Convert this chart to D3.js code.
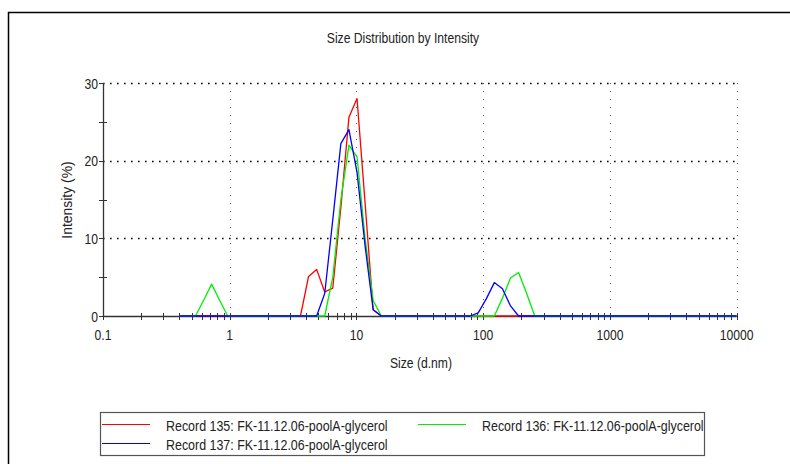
<!DOCTYPE html>
<html><head><meta charset="utf-8">
<script src="https://cdn.jsdelivr.net/npm/d3@7"></script>
<style>body{margin:0;background:#fff}svg{display:block}text{font-family:"Liberation Sans",Arial,sans-serif;fill:#222}</style>
</head><body><svg id="c" width="790" height="464"></svg>
<script>
const sizes=[0.4,0.4632,0.5365,0.6213,0.7195,0.8332,0.9649,1.117,1.294,1.499,1.736,2.010,2.328,2.696,3.122,3.615,4.187,4.849,5.615,6.503,7.531,8.721,10.10,11.70,13.54,15.69,18.17,21.04,24.36,28.21,32.67,37.84,43.82,50.75,58.77,68.06,78.82,91.28,105.7,122.4,141.8,164.2,190.1,220.2,255.0,295.3,342.0,396.1,458.7,531.2,615.1,712.4,825.0,955.4,1106,1281,1484,1718,1990,2305,2669,3091,3580,4145,4801,5560,6439,7456,8635,10000];
const rec135=[0,0,0,0,0,0,0,0,0,0,0,0,0,0,0,0,5.1,6.0,3.1,3.6,14,25.6,28.0,14.5,0.8,0,0,0,0,0,0,0,0,0,0,0,0,0,0,0,0,0,0,0,0,0,0,0,0,0,0,0,0,0,0,0,0,0,0,0,0,0,0,0,0,0,0,0,0,0];
const rec136=[0,0,0,2.0,4.1,2.0,0,0,0,0,0,0,0,0,0,0,0,0,0,5,15,22,20.5,10,2,0,0,0,0,0,0,0,0,0,0,0,0,0,0,0,2.3,4.9,5.6,2.9,0,0,0,0,0,0,0,0,0,0,0,0,0,0,0,0,0,0,0,0,0,0,0,0,0,0];
const rec137=[0,0,0,0,0,0,0,0,0,0,0,0,0,0,0,0,0,0,2.9,12.4,22.2,24.0,18.5,9,0.8,0,0,0,0,0,0,0,0,0,0,0,0,0.4,2.2,4.3,3.5,1.3,0,0,0,0,0,0,0,0,0,0,0,0,0,0,0,0,0,0,0,0,0,0,0,0,0,0,0,0];
const xTicks=[0.1,1,10,100,1000,10000];
const xTickLabels=["0.1","1","10","100","1000","10000"];
const yTicks=[0,10,20,30];
const series=[
 {name:"Record 135: FK-11.12.06-poolA-glycerol",values:rec135,color:"#ff0000"},
 {name:"Record 136: FK-11.12.06-poolA-glycerol",values:rec136,color:"#00ee00"},
 {name:"Record 137: FK-11.12.06-poolA-glycerol",values:rec137,color:"#0000ff"}
];
const title="Size Distribution by Intensity", xLabel="Size (d.nm)", yLabel="Intensity (%)";

const svg=d3.select("#c");
const x=d3.scaleLog().domain([0.1,10000]).range([103,736.7]);
const y=d3.scaleLinear().domain([0,30]).range([316,83]);
const FS=15;
function txt(t,px,py,anchor,rot,sx){
  const g=svg.append("g").attr("transform",`translate(${px},${py})${rot?` rotate(${rot})`:""} scale(${sx||0.81},1)`);
  g.append("text").attr("text-anchor",anchor||"start").style("font-size",FS+"px").text(t);
}
// frame
svg.append("path").attr("d","M8.5,464 V12.5 H790").attr("fill","none").attr("stroke","#000").attr("stroke-width",1.5);
// grid
const gg=svg.append("g").attr("stroke","#000").attr("fill","none");
yTicks.filter(v=>v>0).forEach(v=>gg.append("line").attr("x1",x(0.1)).attr("x2",x(10000)).attr("y1",Math.round(y(v))+0.5).attr("y2",Math.round(y(v))+0.5).attr("stroke-width",1.6).attr("stroke-dasharray","1.6,5.4"));
xTicks.filter(v=>v>0.1).forEach(v=>gg.append("line").attr("x1",Math.round(x(v))+0.5).attr("x2",Math.round(x(v))+0.5).attr("y1",y(30)).attr("y2",y(0)).attr("stroke","#555").attr("stroke-width",1).attr("stroke-dasharray","1,7"));
// axes
const ax=svg.append("g").attr("stroke","#333").attr("fill","none");
ax.append("line").attr("x1",103.5).attr("x2",103.5).attr("y1",y(30)).attr("y2",y(0)).attr("stroke-width",1.3);
ax.append("line").attr("x1",103).attr("x2",x(10000)).attr("y1",316.5).attr("y2",316.5).attr("stroke-width",1.3);
d3.range(0,31,5).forEach(v=>{
  const yy=Math.round(y(v))+0.5;
  ax.append("line").attr("x1",99).attr("x2",v%10===0?104:107).attr("y1",yy).attr("y2",yy);
});
const minor=[];
for(let d=-1;d<4;d++)for(let k=1;k<=9;k++)minor.push(k*Math.pow(10,d));
minor.push(10000);
minor.forEach(v=>{
  const xx=Math.round(x(v))+0.5;
  ax.append("line").attr("x1",xx).attr("x2",xx).attr("y1",313).attr("y2",320).attr("stroke-width",1);
});
// curves
const line=d3.line().x((d,i)=>x(sizes[i])).y(d=>y(d));
series.forEach(s=>svg.append("path").datum(s.values).attr("d",line).attr("fill","none").attr("stroke",s.color).attr("stroke-width",1.3).attr("stroke-linejoin","round"));
// tick labels
yTicks.forEach(v=>txt(String(v),98,y(v)+5.5,"end"));
xTicks.forEach((v,i)=>txt(xTickLabels[i],x(v),340,"middle"));
// titles
txt(title,403,43,"middle");
txt(xLabel,421,368,"middle");
txt(yLabel,72,200,"middle",-90,0.93);
// legend
svg.append("rect").attr("x",100.5).attr("y",412.5).attr("width",604).attr("height",43).attr("fill","#fff").attr("stroke","#555").attr("stroke-width",1.2);
const leg=[{s:series[0],lx:102,ty:424,tx:166,bl:431},{s:series[1],lx:418,ty:424,tx:482,bl:431},{s:series[2],lx:102,ty:443,tx:166,bl:449.5}];
leg.forEach(l=>{
  svg.append("line").attr("x1",l.lx).attr("x2",l.lx+48).attr("y1",l.ty+0.5).attr("y2",l.ty+0.5).attr("stroke",l.s.color).attr("stroke-width",1.2);
  txt(l.s.name,l.tx,l.bl,"start",0,0.83);
});
</script></body></html>
